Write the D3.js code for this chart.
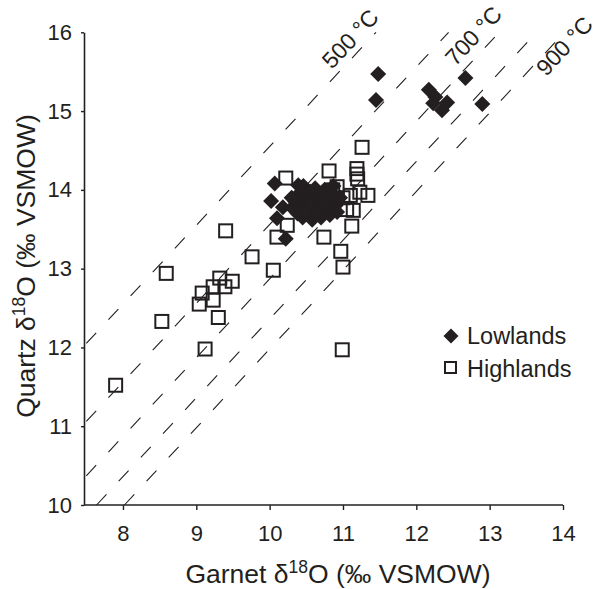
<!DOCTYPE html>
<html>
<head>
<meta charset="utf-8">
<script src="https://cdn.jsdelivr.net/npm/d3@7"></script>
<style>
  body { margin: 0; background: #fff; }
  text { font-family: "Liberation Sans", Arial, sans-serif; fill: #231f20; }
</style>
</head>
<body>
<div id="chart"></div>
<script>
  const width = 597,
    height = 589,
    ink = '#231f20';

  // garnet / quartz d18O, Lowlands samples
  const lowlands = [
    [11.48, 15.47], [11.45, 15.14], [12.17, 15.27], [12.67, 15.42], [12.26, 15.18],
    [12.42, 15.11], [12.35, 15.01], [12.23, 15.10], [12.90, 15.09],
    [10.07, 14.08], [10.02, 13.86], [10.10, 13.64], [10.22, 13.38], [10.18, 13.78],
    [10.31, 13.77], [10.35, 13.85], [10.40, 13.95], [10.46, 14.05], [10.50, 13.90],
    [10.42, 13.80], [10.38, 13.70], [10.45, 13.65], [10.52, 13.75], [10.55, 13.98],
    [10.58, 13.62], [10.60, 13.85], [10.62, 13.70], [10.65, 13.95], [10.68, 13.80],
    [10.70, 13.65], [10.72, 13.90], [10.75, 14.00], [10.78, 13.75], [10.80, 13.85],
    [10.82, 13.68], [10.85, 13.95], [10.87, 14.05], [10.90, 13.80], [10.92, 13.72],
    [10.55, 13.80], [10.48, 13.72], [10.66, 13.73], [10.74, 13.82], [10.62, 14.02],
    [10.96, 13.90], [10.30, 13.90], [10.39, 14.06]
  ];

  // garnet / quartz d18O, Highlands samples
  const highlands = [
    [7.90, 11.52], [8.53, 12.33], [8.59, 12.94], [9.12, 11.98], [9.04, 12.55],
    [9.08, 12.69], [9.23, 12.60], [9.23, 12.77], [9.30, 12.38], [9.32, 12.88],
    [9.39, 12.77], [9.49, 12.84], [9.40, 13.48], [9.76, 13.15], [10.05, 12.98],
    [10.10, 13.40], [10.24, 13.55], [10.22, 14.15], [10.74, 13.40], [10.81, 14.24],
    [10.92, 14.04], [11.26, 14.54], [11.19, 14.27], [11.19, 14.20], [11.20, 14.14],
    [11.23, 13.97], [11.34, 13.93], [11.10, 13.93], [11.14, 13.74], [11.12, 13.54],
    [10.97, 13.22], [11.00, 13.02], [10.99, 11.97], [10.86, 14.00], [11.00, 13.90],
    [11.05, 13.75]
  ];

  // isotherms: quartz - garnet fractionation (per mil) for each temperature
  const isoTemps = [500, 600, 700, 800, 900];
  const isoDelta = [4.55, 3.56, 2.87, 2.36, 1.98];
  // labelled isotherms and the garnet/quartz point where their label starts
  const isoLabels = [
    { t: 500, x: 10.85, y: 15.52 },
    { t: 700, x: 12.53, y: 15.56 },
    { t: 900, x: 13.77, y: 15.43 }
  ];

  const xTicks = [8, 9, 10, 11, 12, 13, 14],
    yTicks = [10, 11, 12, 13, 14, 15, 16];

  const x = d3.scaleLinear().domain([7.5, 14]).range([86.3, 563]);
  const y = d3.scaleLinear().domain([10, 16]).range([505, 32.3]);

  const svg = d3.select('#chart').append('svg')
    .attr('width', width)
    .attr('height', height);

  svg.append('rect').attr('width', width).attr('height', height).attr('fill', '#fff');

  // isotherm lines, clipped to the plot box
  const iso = svg.append('g');
  isoDelta.forEach(function(d) {
    let x0 = 7.5, y0 = x0 + d;
    if (y0 < 10) { y0 = 10; x0 = y0 - d; }
    let x1 = 16 - d, y1 = 16;
    if (x1 > 14) { x1 = 14; y1 = x1 + d; }
    iso.append('line')
      .attr('x1', x(x0)).attr('y1', y(y0))
      .attr('x2', x(x1)).attr('y2', y(y1))
      .attr('stroke', ink)
      .attr('stroke-width', 1.1)
      .attr('stroke-dasharray', '14.5,18');
  });

  const angle = -Math.atan((y(10) - y(11)) / (x(11) - x(10))) * 180 / Math.PI;
  iso.selectAll('text.iso')
    .data(isoLabels)
    .enter().append('text')
      .attr('class', 'iso')
      .attr('transform', function(d) { return 'translate(' + x(d.x) + ',' + y(d.y) + ') rotate(' + angle + ')'; })
      .style('font-size', '23px')
      .text(function(d) { return d.t + ' \u00B0C'; });

  // axes
  const xAxis = svg.append('g')
    .attr('transform', 'translate(0,505)')
    .call(d3.axisBottom(x).tickValues(xTicks).tickFormat(d3.format('d'))
      .tickSize(5).tickSizeOuter(0).tickPadding(15));
  const yAxis = svg.append('g')
    .attr('transform', 'translate(84,0)')
    .call(d3.axisLeft(y).tickValues(yTicks).tickFormat(d3.format('d'))
      .tickSize(3).tickSizeOuter(0).tickPadding(9));

  [xAxis, yAxis].forEach(function(a) {
    a.select('.domain').attr('stroke', ink).attr('stroke-width', 1.6);
    a.selectAll('.tick line').attr('stroke', ink).attr('stroke-width', 1.4);
    a.selectAll('.tick text').style('font-size', '22px').attr('fill', ink)
      .style('font-family', '"Liberation Sans", Arial, sans-serif');
  });
  xAxis.select('.domain').attr('d', 'M84,0H563');

  // markers: squares first, diamonds on top
  const sq = 13;
  svg.append('g').selectAll('rect')
    .data(highlands)
    .enter().append('rect')
      .attr('x', function(d) { return x(d[0]) - sq / 2; })
      .attr('y', function(d) { return y(d[1]) - sq / 2; })
      .attr('width', sq).attr('height', sq)
      .attr('fill', 'none')
      .attr('stroke', ink)
      .attr('stroke-width', 2);

  const diamond = 'M0,-8L8,0L0,8L-8,0Z';
  svg.append('g').selectAll('path')
    .data(lowlands)
    .enter().append('path')
      .attr('transform', function(d) { return 'translate(' + x(d[0]) + ',' + y(d[1]) + ')'; })
      .attr('d', diamond)
      .attr('fill', ink);

  // legend
  const legend = svg.append('g');
  legend.append('path').attr('d', 'M0,-7.5L7.5,0L0,7.5L-7.5,0Z')
    .attr('transform', 'translate(451,336)').attr('fill', ink);
  legend.append('rect').attr('x', 445).attr('y', 362).attr('width', 11).attr('height', 11)
    .attr('fill', 'none').attr('stroke', ink).attr('stroke-width', 2);
  legend.append('text').attr('x', 467).attr('y', 344).style('font-size', '23.5px').text('Lowlands');
  legend.append('text').attr('x', 467).attr('y', 377).style('font-size', '23.5px').text('Highlands');

  // axis titles
  const xt = svg.append('text')
    .attr('x', 338).attr('y', 583)
    .attr('text-anchor', 'middle')
    .style('font-size', '26.5px');
  xt.append('tspan').text('Garnet \u03B4');
  xt.append('tspan').attr('dy', -10).style('font-size', '17.5px').text('18');
  xt.append('tspan').attr('dy', 10).text('O (\u2030 VSMOW)');

  const yt = svg.append('text')
    .attr('transform', 'translate(35,266) rotate(-90)')
    .attr('text-anchor', 'middle')
    .style('font-size', '26.5px');
  yt.append('tspan').text('Quartz \u03B4');
  yt.append('tspan').attr('dy', -10).style('font-size', '17.5px').text('18');
  yt.append('tspan').attr('dy', 10).text('O (\u2030 VSMOW)');
</script>
</body>
</html>
